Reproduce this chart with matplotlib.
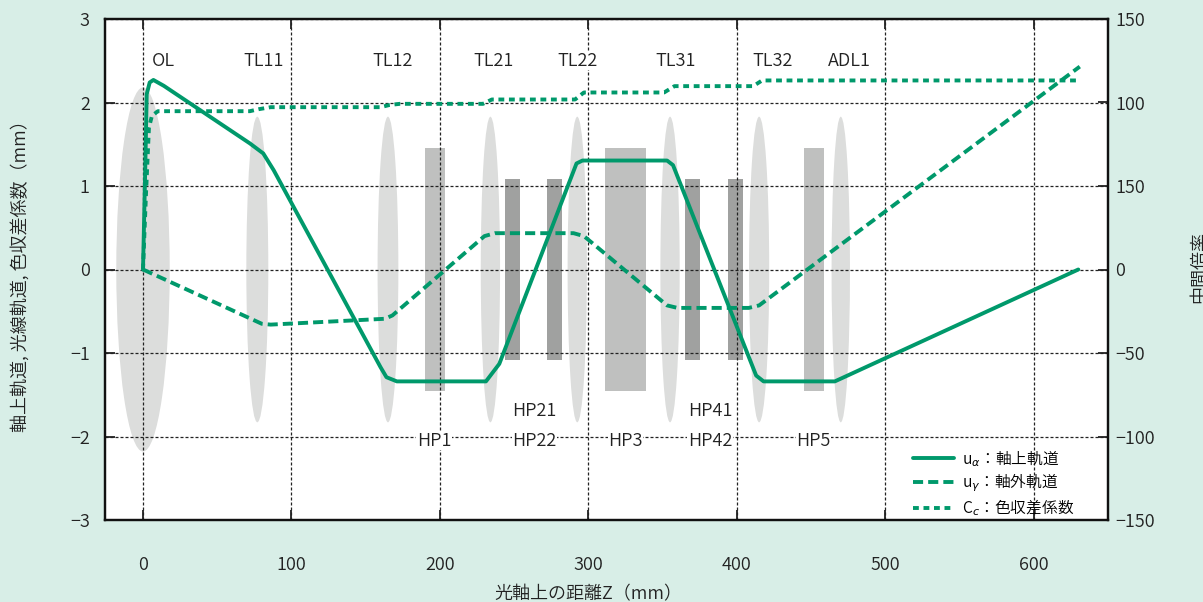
import matplotlib
matplotlib.use("Agg")
import matplotlib.pyplot as plt
from matplotlib.patches import Ellipse, Rectangle

plt.rcParams['font.family'] = ['Noto Sans CJK JP', 'DejaVu Sans']
plt.rcParams['font.weight'] = 350
plt.rcParams['axes.unicode_minus'] = True

# --- data ---
# on-axis trajectory u_alpha (mm)
ua_x = [0, 1.5, 2.5, 4.5, 7, 14, 72, 81, 88, 160, 164, 171, 231, 240, 292, 296, 353, 357, 413, 418, 466, 630]
ua_y = [0, 1.2, 2.1, 2.24, 2.27, 2.2, 1.51, 1.39, 1.19, -1.17, -1.29, -1.34, -1.34, -1.13, 1.27, 1.305, 1.305, 1.25, -1.27, -1.34, -1.34, 0]
# off-axis trajectory u_gamma (mm)
ug_x = [0, 80, 86, 163, 168, 230, 237, 290, 297, 353, 360, 408, 415, 631]
ug_y = [0, -0.65, -0.66, -0.59, -0.55, 0.40, 0.435, 0.435, 0.40, -0.43, -0.46, -0.46, -0.43, 2.43]
# chromatic aberration coefficient Cc (right axis)
cc_x = [0, 2, 4, 6, 10, 72, 78, 86, 160, 166, 173, 229, 235, 291, 297, 351, 358, 411, 417, 631]
cc_y = [0, 45, 85, 92, 94.8, 94.8, 96, 97.2, 97.2, 98.5, 99.2, 99.2, 101.8, 101.8, 106, 106, 109.8, 109.8, 113.2, 113.2]

# lenses: name, centre z, half width, half height
lens_names = ['OL', 'TL11', 'TL12', 'TL21', 'TL22', 'TL31', 'TL32', 'ADL1']
lens_z = [0, 77, 165, 234, 292.5, 355, 415, 470]
lens_hw = [18, 7.4, 7, 6.5, 6.5, 6.5, 6.8, 6.2]
lens_hh = [2.18, 1.83, 1.83, 1.83, 1.83, 1.83, 1.83, 1.83]
lens_label_z = [13.5, 81, 168, 236, 293, 358.5, 424, 476]

# hexapoles: left edge, right edge, half height, shade
hp_left = [190, 243.8, 271.8, 311, 365, 394, 445]
hp_right = [203.4, 253.9, 282.2, 338.7, 375, 404, 458.6]
hp_hh = [1.45, 1.08, 1.08, 1.45, 1.08, 1.08, 1.45]
hp_dark = [False, True, True, False, True, True, False]
hp_labels = ['HP1', 'HP21', 'HP22', 'HP3', 'HP41', 'HP42', 'HP5']
hp_label_z = [196, 263.7, 263.7, 325, 382, 382, 451.6]
hp_label_y = [-2.05, -1.69, -2.05, -2.05, -1.69, -2.05, -2.05]

xticks = [0, 100, 200, 300, 400, 500, 600]
yticks_left = [3, 2, 1, 0, -1, -2, -3]
yticks_right = [150, 100, 50, 0, -50, -100, -150]
right_tick_labels = ['150', '100', '150', '0', '\u221250', '\u2212100', '\u2212150']

green = '#00996b'
bg = '#d8eee7'

fig = plt.figure(figsize=(12.03, 6.02), dpi=100, facecolor=bg)
ax = fig.add_axes([105 / 1203, 82 / 602, 1003 / 1203, 501 / 602])
ax.set_facecolor('white')
ax.set_xlim(-25.6, 650)
ax.set_ylim(-3, 3)
ax.set_axisbelow(True)

for z, hw, hh in zip(lens_z, lens_hw, lens_hh):
    ax.add_patch(Ellipse((z, 0), 2 * hw, 2 * hh, facecolor='#dcdddc', edgecolor='none', zorder=0.2))
for l, r, hh, dark in zip(hp_left, hp_right, hp_hh, hp_dark):
    ax.add_patch(Rectangle((l, -hh), r - l, 2 * hh, facecolor='#a0a1a0' if dark else '#bfc0bf',
                           edgecolor='none', zorder=0.3))

ax.grid(True, color='#222222', linestyle=(0, (2.4, 1.6)), linewidth=0.9)

l1, = ax.plot(ua_x, ua_y, color=green, lw=2.8, solid_joinstyle='round', solid_capstyle='round')
l2, = ax.plot(ug_x, ug_y, color=green, lw=2.8, linestyle=(0, (2.6, 1.3)), dash_joinstyle='round')

for name, z in zip(lens_names, lens_label_z):
    ax.text(z, 2.5, name, ha='center', va='center', fontsize=13, color='#222222',
            bbox=dict(facecolor='white', edgecolor='none', pad=0.5), zorder=3)
for name, z, y in zip(hp_labels, hp_label_z, hp_label_y):
    ax.text(z, y, name, ha='center', va='center', fontsize=13, color='#222222',
            bbox=dict(facecolor='white', edgecolor='none', pad=0.5), zorder=3)

ax.set_xticks(xticks)
ax.set_yticks(yticks_left)
ax.tick_params(axis='both', direction='in', length=7, width=1.3, labelsize=13, colors='#222222',
               top=True)
ax.tick_params(axis='x', pad=26)
ax.tick_params(axis='y', pad=11)
for s in ax.spines.values():
    s.set_linewidth(1.6)
    s.set_color('#111111')

ax2 = ax.twinx()
ax2.set_ylim(-150, 150)
l3, = ax2.plot(cc_x, cc_y, color=green, lw=2.8, linestyle=(0, (1.5, 1.2)), dash_joinstyle='round')
ax2.set_yticks(yticks_right)
ax2.set_yticklabels(right_tick_labels)
ax2.tick_params(axis='y', direction='in', length=7, width=1.3, labelsize=13, colors='#222222', pad=5)
for s in ax2.spines.values():
    s.set_linewidth(1.6)
    s.set_color('#111111')

fig.legend([l1, l2, l3],
           ['u$_{\\alpha}$\uff1a軸上軌道', 'u$_{\\gamma}$\uff1a軸外軌道', 'C$_c$\uff1a色収差係数'],
           loc='upper left', bbox_to_anchor=(905 / 1203, (602 - 440) / 602), frameon=False,
           fontsize=11.3, handlelength=2.6, handletextpad=0.5, labelspacing=0.2, borderpad=0)

fig.text(20 / 1203, (602 - 272) / 602, '軸上軌道, 光線軌道, 色収差係数（mm）', rotation=90,
         ha='center', va='center', fontsize=13, color='#222222')
fig.text(1199 / 1203, (602 - 267) / 602, '中間倍率', rotation=90,
         ha='center', va='center', fontsize=13, color='#222222')
fig.text(588 / 1203, (602 - 594) / 602, '光軸上の距離Z（mm）', ha='center', va='center',
         fontsize=13, color='#222222')

fig.savefig('out.png', dpi=100, facecolor=bg)
